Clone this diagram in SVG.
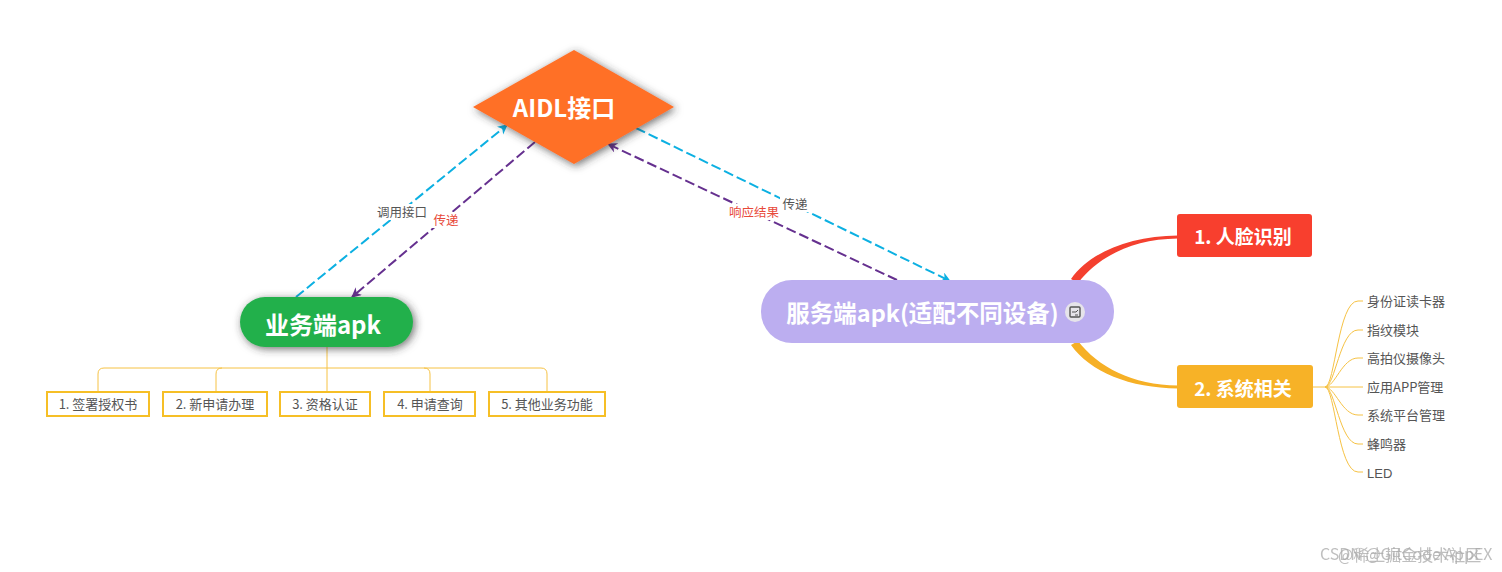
<svg xmlns="http://www.w3.org/2000/svg" width="1502" height="572" viewBox="0 0 1502 572">
<style>
text{font-family:"Noto Sans CJK SC","Liberation Sans",sans-serif}
.t{fill:#fff;font-weight:700;text-anchor:middle;dominant-baseline:central}
.s{fill:#555;font-size:13px;text-anchor:middle;dominant-baseline:central}
.r{fill:#555;font-size:13px;dominant-baseline:central}
.box{fill:#fff;stroke:#f6bf26;stroke-width:2}
.y{fill:none;stroke:#f6c244;stroke-width:1}
.cy{fill:none;stroke:#0cb0e2;stroke-width:2;stroke-dasharray:10 4}
.pu{fill:none;stroke:#65308f;stroke-width:2;stroke-dasharray:10 4}
.lb{font-size:12.5px;text-anchor:middle;dominant-baseline:central}
.wm{fill:#aaa;font-size:16px;opacity:.75}
</style>
<defs>
<filter id="sh" x="-20%" y="-30%" width="140%" height="160%"><feDropShadow dx="2" dy="2" stdDeviation="4" flood-color="#333" flood-opacity=".7"/></filter>
<marker id="ac" markerWidth="11" markerHeight="11" refX="9" refY="5" orient="auto" markerUnits="userSpaceOnUse"><path d="M0 0L10 5L0 10L3 5Z" fill="#0cb0e2"/></marker>
<marker id="ap" markerWidth="11" markerHeight="11" refX="9" refY="5" orient="auto" markerUnits="userSpaceOnUse"><path d="M0 0L10 5L0 10L3 5Z" fill="#65308f"/></marker>
</defs>
<rect width="1502" height="572" fill="#fff"/>
<g id="connectors">
<path d="M1071 279C1090 252 1130 236 1178 235.500V238.500C1132 239 1098 257 1078 283Z" fill="#f4402f"/>
<path d="M1071 345C1090 372 1130 388 1178 388.500V385.500C1132 385 1098 367 1078 341Z" fill="#f6b026"/>
<path class="y" d="M1313 387H1325C1335 387 1338 301 1358 301H1363M1325 387C1335 387 1340 330 1358 330H1363M1325 387C1335 387 1342 358 1358 358H1363M1325 387H1363M1325 387C1335 387 1342 415 1358 415H1363M1325 387C1335 387 1340 444 1358 444H1363M1325 387C1335 387 1338 472 1358 472H1363"/>
<path class="y" d="M327 345V391M98 391V374Q98 368 104 368H541Q547 368 547 374V391M216 391V374Q216 368 222 368M430 391V374Q430 368 424 368"/>
<path class="cy" d="M296 297L507 125" marker-end="url(#ac)"/>
<path class="pu" d="M535 142L352 297" marker-end="url(#ap)"/>
<path class="cy" d="M636 128L950 281" marker-end="url(#ac)"/>
<path class="pu" d="M897 280L608 144" marker-end="url(#ap)"/>
<rect x="374" y="204" width="56" height="16" fill="#fff"/>
<text class="lb" x="402" y="211" fill="#555">调用接口</text>
<rect x="431" y="212" width="30" height="16" fill="#fff"/>
<text class="lb" x="446" y="219" fill="#e8493a">传递</text>
<rect x="780" y="196" width="30" height="16" fill="#fff"/>
<text class="lb" x="795" y="203" fill="#555">传递</text>
<rect x="727" y="204" width="54" height="16" fill="#fff"/>
<text class="lb" x="754" y="211" fill="#e8493a">响应结果</text>
</g>
<g id="aidl"><path d="M574 50L674 107L574 164L473 107Z" fill="#ff6f25" filter="url(#sh)"/><text class="t" x="564" y="106" font-size="24">AIDL接口</text></g>
<g id="biz"><rect x="240" y="297" width="173" height="50" rx="25" fill="#22b04c" filter="url(#sh)"/><text class="t" x="323" y="323" font-size="24">业务端apk</text></g>
<g id="n1"><rect class="box" x="47" y="392" width="102" height="24"/><text class="s" x="98" y="403">1. 签署授权书</text></g>
<g id="n2"><rect class="box" x="163" y="392" width="104" height="24"/><text class="s" x="215" y="403">2. 新申请办理</text></g>
<g id="n3"><rect class="box" x="280" y="392" width="90" height="24"/><text class="s" x="325" y="403">3. 资格认证</text></g>
<g id="n4"><rect class="box" x="384" y="392" width="91" height="24"/><text class="s" x="430" y="403">4. 申请查询</text></g>
<g id="n5"><rect class="box" x="489" y="392" width="116" height="24"/><text class="s" x="547" y="403">5. 其他业务功能</text></g>
<g id="server"><rect x="761" y="280" width="353" height="63" rx="31" fill="#bcaef0"/><text class="t" x="922.500" y="312" font-size="23.500">服务端apk(适配不同设备)</text>
<circle cx="1075" cy="312" r="10" fill="#e6e4ea"/><rect x="1070" y="307" width="10" height="10" rx="1" fill="none" stroke="#555" stroke-width="1.400"/><path d="M1072 312H1076L1078 310M1075 315H1078" fill="none" stroke="#555"/></g>
<g id="face"><rect x="1177" y="214" width="135" height="43" rx="3" fill="#f83f2e"/><text class="t" x="1243" y="235.500" font-size="19">1. 人脸识别</text></g>
<g id="sys"><rect x="1177" y="365" width="136" height="43" rx="3" fill="#f7b227"/><text class="t" x="1243" y="387" font-size="19">2. 系统相关</text></g>
<g id="r1"><text class="r" x="1367" y="300.500">身份证读卡器</text></g>
<g id="r2"><text class="r" x="1367" y="329.500">指纹模块</text></g>
<g id="r3"><text class="r" x="1367" y="357.500">高拍仪摄像头</text></g>
<g id="r4"><text class="r" x="1367" y="386.500">应用APP管理</text></g>
<g id="r5"><text class="r" x="1367" y="414.500">系统平台管理</text></g>
<g id="r6"><text class="r" x="1367" y="443.500">蜂鸣器</text></g>
<g id="r7"><text class="r" x="1367" y="473" style="font-family:'Liberation Sans',sans-serif">LED</text></g>
<g id="watermark"><text class="wm" x="1320" y="560">CSDN @GitCode AppEX</text><text class="wm" x="1338" y="561">@稀土掘金技术社区</text></g>
</svg>
